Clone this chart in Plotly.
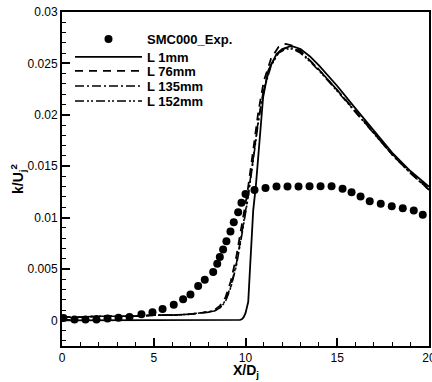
import plotly.graph_objects as go

# Experimental data (SMC000_Exp.)
exp_x = [0.08, 0.68, 1.28, 1.88, 2.48, 3.08, 3.68, 4.33, 4.93, 5.48, 6.09, 6.60, 7.00, 7.42,
         7.78, 8.24, 8.46, 8.60, 8.78, 8.96, 9.18, 9.36, 9.60, 9.78, 10.0, 10.49, 11.09,
         11.69, 12.29, 12.89, 13.49, 14.09, 14.69, 15.29, 15.78, 16.27, 16.77, 17.37,
         17.97, 18.57, 19.17, 19.66]
exp_y = [0.00022, 0.00007, 0.00007, 0.00007, 0.00017, 0.00026, 0.00032, 0.00058, 0.00078,
         0.00110, 0.00152, 0.00204, 0.00250, 0.00333, 0.00395, 0.00469, 0.00550, 0.00615,
         0.00689, 0.00770, 0.00864, 0.00954, 0.01051, 0.01143, 0.01230, 0.01269, 0.01288,
         0.01301, 0.01301, 0.01301, 0.01304, 0.01304, 0.01304, 0.01279, 0.01246, 0.01204,
         0.01158, 0.01133, 0.01110, 0.01090, 0.01068, 0.01026]

# L 1mm
l1_x = [0, 2, 4, 6, 8, 9, 9.5, 9.7, 9.8, 9.9, 10.0, 10.1, 10.15, 10.23, 10.33, 10.42,
        10.56, 10.78, 10.96, 11.24, 11.69, 12.0, 12.5, 13.0, 13.5, 14.0, 15.0, 16.0, 17.0,
        18.0, 19.0, 20.0]
l1_y = [0.0, 0.0, 0.0, 0.0, 0.0, 0.00001, 0.00002, 0.00005, 0.0001, 0.0003, 0.0007, 0.0013,
        0.0018, 0.0045, 0.0078, 0.0107, 0.0130, 0.0181, 0.0217, 0.0243, 0.0259, 0.0264,
        0.0267, 0.0264, 0.0257, 0.0248, 0.0228, 0.0206, 0.0184, 0.0163, 0.0145, 0.0130]

# L 76mm, L 135mm, L 152mm
lx = [0, 1, 2, 3, 4, 5, 6, 7, 7.5, 8, 8.3, 8.6, 8.9, 9.2, 9.5, 9.8, 10.1, 10.4, 10.7,
      11.0, 11.4, 11.8, 12.2, 12.6, 13.0, 13.5, 14.0, 15.0, 16.0, 17.0, 18.0, 19.0, 20.0]
l76_y = [0.0003, 0.0003, 0.0004, 0.0004, 0.0004, 0.0005, 0.0005, 0.0006, 0.0007, 0.0008,
         0.0010, 0.0014, 0.0022, 0.0038, 0.0062, 0.0092, 0.0124, 0.0163, 0.0203, 0.0233,
         0.0255, 0.0266, 0.0269, 0.0267, 0.0262, 0.0253, 0.0244, 0.0224, 0.0203, 0.0182,
         0.0162, 0.0144, 0.0128]
l135_y = [0.0003, 0.0003, 0.0004, 0.0004, 0.0004, 0.0005, 0.0005, 0.0006, 0.0007, 0.0008,
          0.0009, 0.0012, 0.0019, 0.0033, 0.0055, 0.0085, 0.0117, 0.0155, 0.0195, 0.0226,
          0.0249, 0.0261, 0.0265, 0.0265, 0.0261, 0.0253, 0.0244, 0.0224, 0.0203, 0.0182,
          0.0161, 0.0143, 0.0127]
l152_y = [0.0003, 0.0003, 0.0004, 0.0004, 0.0004, 0.0005, 0.0005, 0.0006, 0.0007, 0.0008,
          0.0009, 0.0012, 0.0018, 0.0032, 0.0053, 0.0083, 0.0115, 0.0153, 0.0193, 0.0224,
          0.0248, 0.0260, 0.0264, 0.0264, 0.0260, 0.0252, 0.0243, 0.0223, 0.0202, 0.0181,
          0.0161, 0.0143, 0.0127]

y_ticks = [0, 0.005, 0.01, 0.015, 0.02, 0.025, 0.03]
y_labels = ["0", "0.005", "0.01", "0.015", "0.02", "0.025", "0.03"]
x_ticks = [0, 5, 10, 15, 20]
x_labels = ["0", "5", "10", "15", "20"]

FONT = "Liberation Sans, Arial, sans-serif"
W, H = 432, 382
ML, MR, MT, MB = 62, 3, 12, 36
PH = H - MT - MB

def py(ypx):
    return 1 - (ypx - MT) / PH

fig = go.Figure()
fig.add_trace(go.Scatter(x=exp_x, y=exp_y, mode="markers", name="<b>SMC000_Exp.</b>",
                         marker=dict(color="black", size=8, symbol="circle"), legend="legend"))
fig.add_trace(go.Scatter(x=l1_x, y=l1_y, mode="lines", name="<b>L 1mm</b>",
                         line=dict(color="black", width=1.8), legend="legend2"))
fig.add_trace(go.Scatter(x=lx, y=l76_y, mode="lines", name="<b>L 76mm</b>",
                         line=dict(color="black", width=1.8, dash="8px,6px"), legend="legend3"))
fig.add_trace(go.Scatter(x=lx, y=l135_y, mode="lines", name="<b>L 135mm</b>",
                         line=dict(color="black", width=1.6, dash="9px,3px,2px,3px"), legend="legend4"))
fig.add_trace(go.Scatter(x=lx, y=l152_y, mode="lines", name="<b>L 152mm</b>",
                         line=dict(color="black", width=1.6, dash="9px,3px,2px,2px,2px,3px"), legend="legend5"))

axis_common = dict(
    showgrid=False, zeroline=False, showline=True, linecolor="black", linewidth=2,
    mirror=True, ticks="inside", ticklen=8, tickwidth=1.5, tickcolor="black",
    tickfont=dict(family=FONT, size=12, color="black"), automargin=False,
)

fig.update_xaxes(range=[0, 20], tickvals=x_ticks, ticktext=x_labels,
                 ticklabeloverflow="allow",
                 minor=dict(ticks="inside", ticklen=4, dtick=1, tickcolor="black", tickwidth=1),
                 **axis_common)
fig.update_yaxes(range=[-0.0025, 0.03], tickvals=y_ticks, ticktext=y_labels,
                 minor=dict(ticks="inside", ticklen=4, dtick=0.001, tick0=0, tickcolor="black", tickwidth=1),
                 title=dict(text="<b>k/U<sub>j</sub><sup>2</sup></b>", font=dict(family=FONT, size=14, color="black"),
                            standoff=0),
                 **axis_common)

legend_x = (70 - ML) / (W - ML - MR)
rows = [39, 57, 71, 86, 101]
leg_common = dict(x=legend_x, xanchor="left", yanchor="middle", bgcolor="rgba(0,0,0,0)",
                  font=dict(family=FONT, size=13, color="black"), itemwidth=67,
                  borderwidth=0)
layout_legends = {}
for i, r in enumerate(rows):
    key = "legend" if i == 0 else f"legend{i + 1}"
    layout_legends[key] = dict(y=py(r), **leg_common)

fig.update_layout(
    width=W, height=H,
    margin=dict(l=ML, r=MR, t=MT, b=MB, autoexpand=False),
    plot_bgcolor="white", paper_bgcolor="white",
    font=dict(family=FONT, color="black"),
    showlegend=True,
    **layout_legends,
)

fig.add_annotation(text="<b>X/D<sub>j</sub></b>", xref="paper", yref="paper",
                   x=0.5, y=py(371), xanchor="center", yanchor="middle", showarrow=False,
                   font=dict(family=FONT, size=14, color="black"))

fig.write_html("out.html")
